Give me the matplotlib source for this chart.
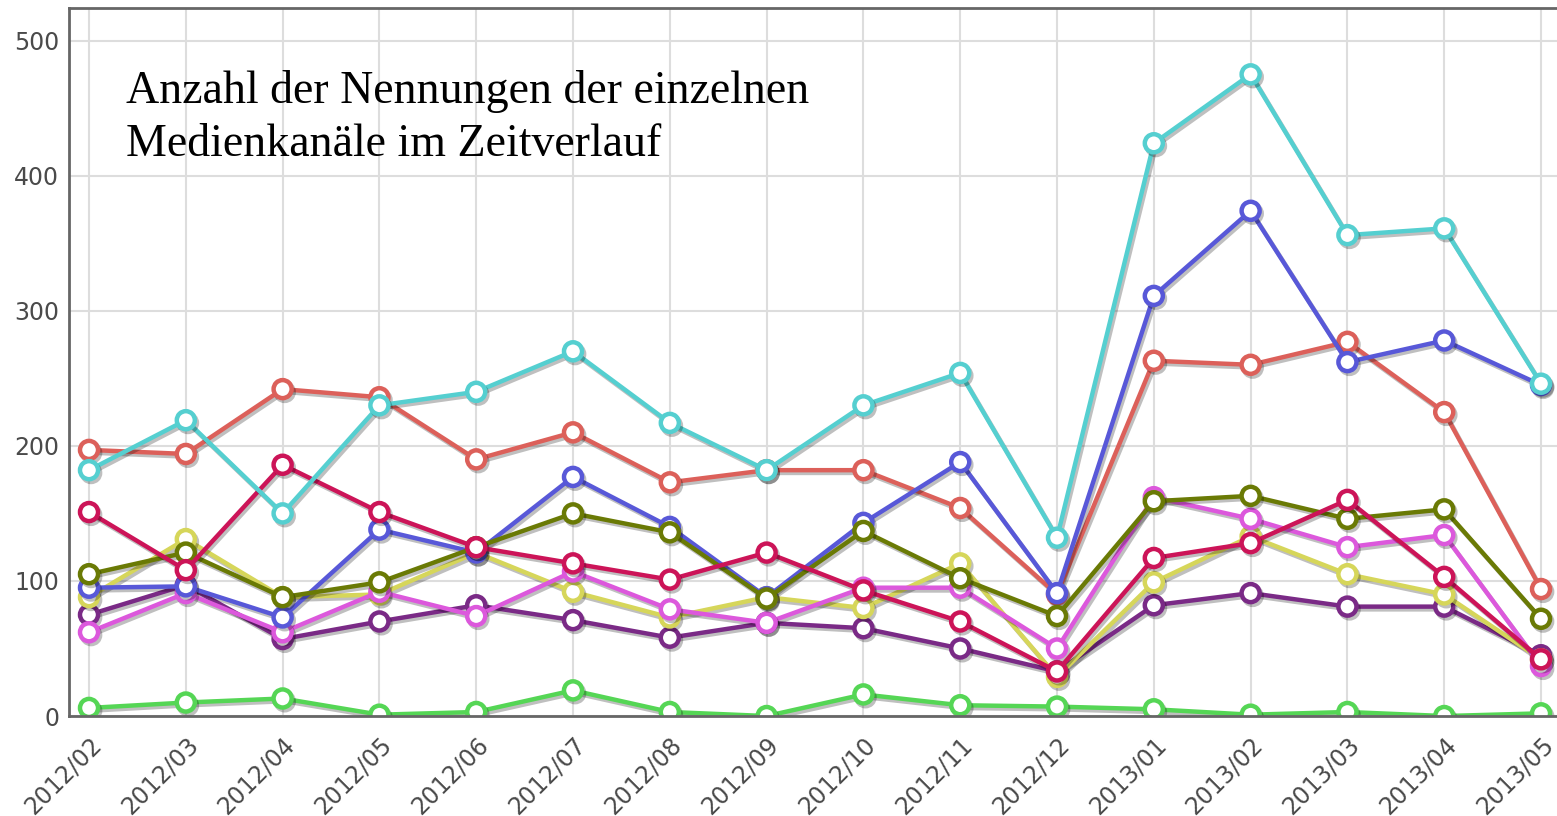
import matplotlib
matplotlib.use("Agg")
import matplotlib.pyplot as plt
import matplotlib.patheffects as pe

# months on the x axis
months = ["2012/02", "2012/03", "2012/04", "2012/05", "2012/06", "2012/07",
          "2012/08", "2012/09", "2012/10", "2012/11", "2012/12", "2013/01",
          "2013/02", "2013/03", "2013/04", "2013/05"]

# values per media channel
purple  = [75, 97, 57, 70, 82, 71, 58, 69, 65, 50, 33, 82, 91, 81, 81, 45]
yellow  = [88, 131, 88, 90, 121, 92, 73, 88, 80, 113, 29, 99, 133, 105, 90, 42]
magenta = [62, 91, 62, 92, 74, 107, 79, 69, 95, 95, 50, 162, 146, 125, 134, 37]
green   = [6, 10, 13, 1, 3, 19, 3, 0, 16, 8, 7, 5, 1, 3, 0, 2]
salmon  = [197, 194, 242, 236, 190, 210, 173, 182, 182, 154, 90, 263, 260, 277, 225, 94]
blue    = [95, 96, 73, 138, 121, 177, 140, 88, 143, 188, 91, 311, 374, 262, 278, 245]
olive   = [105, 121, 88, 99, 125, 150, 136, 87, 137, 102, 74, 159, 163, 146, 153, 72]
crimson = [151, 108, 186, 151, 125, 113, 101, 121, 93, 70, 33, 117, 128, 160, 103, 42]
cyan    = [182, 219, 150, 230, 240, 270, 217, 182, 230, 254, 132, 424, 475, 356, 361, 246]

series = [
    (purple, "#7a2a86"),
    (yellow, "#d6d65a"),
    (magenta, "#dc58dc"),
    (green, "#55d655"),
    (salmon, "#dc605a"),
    (blue, "#5858d8"),
    (olive, "#6a7a05"),
    (crimson, "#cc1458"),
    (cyan, "#55cfd0"),
]

fig = plt.figure(figsize=(15.57, 8.16), dpi=100)
ax = fig.add_axes([0.0443, 0.1225, 0.9557, 0.8675])

x = list(range(len(months)))
shadow = [pe.SimpleLineShadow(offset=(1.5, -2), alpha=0.25, shadow_color="black"), pe.Normal()]
for vals, col in series:
    ax.plot(x, vals, color=col, lw=3.2, marker="o", ms=13, mfc="white",
            mec=col, mew=3.2, path_effects=shadow)

ax.set_xlim(-0.207, 15.165)
ax.set_ylim(0, 524)
ax.set_yticks([0, 100, 200, 300, 400, 500])
ax.set_xticks(x)
ax.set_xticklabels(months, rotation=45, ha="right", rotation_mode="anchor")
ax.tick_params(axis="both", length=0, labelsize=17, colors="#4a4a4a")
ax.tick_params(axis="y", pad=7)
ax.tick_params(axis="x", pad=12)
ax.grid(True, color="#dddddd", lw=1.5)
ax.set_axisbelow(True)
for side in ["left", "bottom", "top"]:
    ax.spines[side].set_color("#666666")
    ax.spines[side].set_linewidth(2)
ax.spines["right"].set_visible(False)

ax.text(0.038, 0.912, "Anzahl der Nennungen der einzelnen\nMedienkanäle im Zeitverlauf",
        transform=ax.transAxes, ha="left", va="top", fontsize=33,
        family="Liberation Serif", color="black", linespacing=1.3)

fig.savefig("out.png", dpi=100)
